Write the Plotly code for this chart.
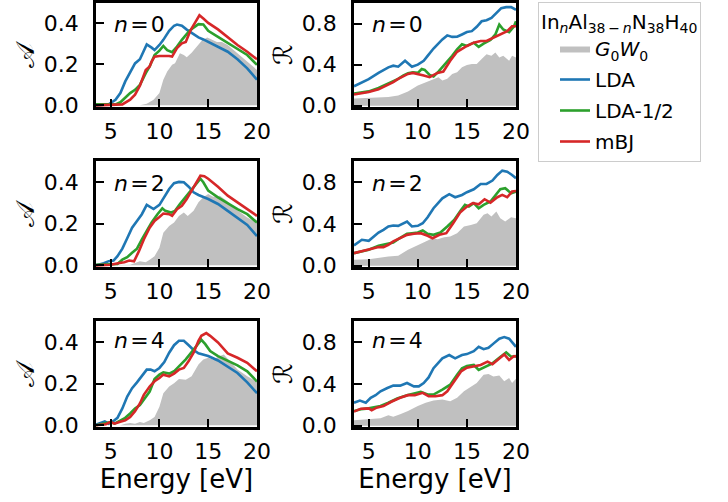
import plotly.graph_objects as go
from plotly.subplots import make_subplots

# ---------------- data ----------------
# n = 0, absorption A
A0_G0W0_E = [3.5, 8.0, 8.7, 9.4, 10.0, 10.4, 10.8, 11.3, 11.6, 12.1, 12.5, 12.8, 13.3, 13.8, 14.4, 14.9, 15.4, 15.9, 16.4, 17.0, 17.6, 18.0, 19.0, 20.0]
A0_G0W0 = [0.0, 0.0, 0.008, 0.028, 0.06, 0.125, 0.165, 0.198, 0.206, 0.254, 0.246, 0.235, 0.257, 0.287, 0.319, 0.332, 0.322, 0.31, 0.31, 0.295, 0.27, 0.254, 0.214, 0.173]
A0_LDA_E = [3.5, 4.8, 5.5, 6.0, 6.5, 7.0, 7.5, 8.0, 8.4, 8.7, 9.2, 9.5, 10.0, 10.4, 11.0, 11.5, 11.8, 12.3, 12.8, 13.5, 14.0, 14.5, 15.0, 16.0, 17.0, 18.0, 19.0, 20.0]
A0_LDA = [0.0, 0.005, 0.027, 0.06, 0.117, 0.165, 0.205, 0.225, 0.27, 0.298, 0.282, 0.27, 0.295, 0.32, 0.364, 0.389, 0.395, 0.389, 0.37, 0.35, 0.332, 0.322, 0.31, 0.29, 0.262, 0.225, 0.181, 0.125]
A0_L12_E = [3.5, 5.5, 6.0, 6.5, 7.0, 7.5, 8.0, 8.6, 9.0, 9.5, 10.0, 10.4, 10.8, 11.3, 11.8, 12.3, 13.0, 13.5, 14.0, 14.5, 15.0, 16.0, 17.0, 18.0, 19.0, 20.0]
A0_L12 = [0.005, 0.005, 0.015, 0.036, 0.06, 0.076, 0.1, 0.157, 0.19, 0.246, 0.267, 0.29, 0.27, 0.26, 0.287, 0.32, 0.36, 0.38, 0.397, 0.395, 0.364, 0.335, 0.306, 0.279, 0.246, 0.198]
A0_MBJ_E = [3.5, 6.2, 7.0, 7.5, 8.0, 8.6, 9.0, 9.2, 9.5, 10.0, 11.0, 11.3, 11.8, 12.3, 12.7, 13.2, 13.7, 14.1, 14.5, 15.0, 16.0, 17.0, 18.0, 19.0, 20.0]
A0_MBJ = [0.0, 0.005, 0.028, 0.052, 0.096, 0.173, 0.19, 0.214, 0.238, 0.241, 0.241, 0.238, 0.28, 0.303, 0.31, 0.368, 0.408, 0.44, 0.424, 0.403, 0.371, 0.332, 0.295, 0.262, 0.225]

# n = 0, reflectance R
R0_G0W0_E = [3.5, 5.0, 7.0, 8.0, 9.0, 10.0, 11.0, 11.6, 12.1, 12.5, 13.0, 13.5, 14.0, 14.5, 15.0, 15.5, 16.0, 16.5, 17.0, 17.5, 17.9, 18.3, 18.7, 19.3, 19.6, 20.0]
R0_G0W0 = [0.07, 0.077, 0.086, 0.1, 0.14, 0.198, 0.237, 0.253, 0.278, 0.246, 0.262, 0.31, 0.326, 0.374, 0.397, 0.406, 0.406, 0.454, 0.502, 0.486, 0.518, 0.47, 0.486, 0.438, 0.486, 0.47]
R0_LDA_E = [3.5, 5.0, 6.0, 7.0, 7.5, 8.0, 8.7, 9.4, 10.0, 10.6, 11.0, 11.6, 12.5, 13.0, 13.5, 14.0, 14.5, 15.0, 15.5, 16.0, 16.5, 17.0, 17.5, 18.0, 18.5, 19.0, 19.5, 20.0]
R0_LDA = [0.19, 0.26, 0.32, 0.374, 0.39, 0.38, 0.438, 0.38, 0.4, 0.438, 0.486, 0.557, 0.646, 0.685, 0.67, 0.672, 0.694, 0.717, 0.726, 0.768, 0.822, 0.832, 0.854, 0.9, 0.95, 0.96, 0.96, 0.934]
R0_L12_E = [3.5, 5.0, 6.0, 7.0, 8.0, 8.5, 9.0, 9.5, 10.0, 10.4, 10.7, 11.2, 11.6, 12.1, 12.8, 13.5, 14.0, 14.5, 15.0, 15.7, 16.2, 16.7, 17.4, 17.9, 18.3, 18.7, 19.3, 19.8, 20.0]
R0_L12 = [0.118, 0.14, 0.173, 0.214, 0.262, 0.294, 0.317, 0.326, 0.32, 0.358, 0.349, 0.3, 0.285, 0.333, 0.406, 0.486, 0.55, 0.598, 0.582, 0.614, 0.573, 0.605, 0.64, 0.694, 0.79, 0.742, 0.717, 0.774, 0.822]
R0_MBJ_E = [3.5, 5.0, 6.0, 7.0, 7.5, 8.0, 8.5, 9.0, 9.5, 10.0, 10.6, 11.2, 12.0, 12.6, 13.3, 14.0, 14.5, 15.0, 15.7, 16.4, 17.0, 17.7, 18.4, 19.1, 19.6, 20.0]
R0_MBJ = [0.109, 0.134, 0.16, 0.205, 0.23, 0.262, 0.288, 0.31, 0.32, 0.31, 0.294, 0.278, 0.32, 0.333, 0.438, 0.525, 0.557, 0.582, 0.614, 0.63, 0.63, 0.662, 0.7, 0.726, 0.774, 0.774]

# n = 2, absorption A
A2_G0W0_E = [3.5, 6.0, 7.0, 8.0, 8.6, 9.0, 9.5, 10.0, 10.4, 11.0, 11.5, 12.0, 12.5, 12.9, 13.5, 14.0, 14.5, 15.0, 15.5, 16.2, 16.9, 17.6, 18.3, 19.0, 20.0]
A2_G0W0 = [0.0, 0.0, 0.003, 0.02, 0.015, 0.027, 0.044, 0.084, 0.156, 0.189, 0.205, 0.237, 0.253, 0.237, 0.261, 0.302, 0.326, 0.342, 0.329, 0.334, 0.31, 0.277, 0.253, 0.229, 0.205]
A2_LDA_E = [3.5, 4.3, 4.8, 5.3, 5.7, 6.2, 6.7, 7.2, 7.7, 8.2, 8.7, 9.0, 9.4, 10.0, 10.4, 11.0, 11.5, 12.0, 12.5, 13.0, 13.5, 14.0, 15.0, 16.0, 17.0, 18.0, 19.0, 20.0]
A2_LDA = [0.0, 0.01, 0.02, 0.023, 0.044, 0.08, 0.13, 0.18, 0.213, 0.245, 0.29, 0.28, 0.27, 0.29, 0.318, 0.366, 0.394, 0.4, 0.398, 0.377, 0.35, 0.337, 0.318, 0.294, 0.261, 0.229, 0.194, 0.14]
A2_L12_E = [3.5, 5.0, 5.7, 6.2, 6.7, 7.2, 7.7, 8.2, 8.7, 9.2, 9.8, 10.3, 10.6, 11.2, 11.6, 12.1, 12.8, 13.5, 14.2, 14.5, 15.0, 16.0, 17.0, 18.0, 19.0, 20.0]
A2_L12 = [0.003, 0.003, 0.006, 0.027, 0.039, 0.06, 0.08, 0.124, 0.165, 0.205, 0.245, 0.273, 0.261, 0.253, 0.261, 0.294, 0.334, 0.374, 0.415, 0.398, 0.358, 0.326, 0.297, 0.269, 0.245, 0.205]
A2_MBJ_E = [3.5, 5.0, 5.9, 6.4, 6.9, 7.4, 7.9, 8.4, 9.0, 9.5, 10.0, 10.4, 11.0, 11.3, 11.8, 12.3, 12.8, 13.3, 13.8, 14.2, 14.6, 15.0, 16.0, 17.0, 18.0, 19.0, 20.0]
A2_MBJ = [0.0, 0.003, 0.011, 0.015, 0.023, 0.019, 0.068, 0.124, 0.18, 0.213, 0.232, 0.248, 0.245, 0.237, 0.269, 0.285, 0.318, 0.358, 0.398, 0.43, 0.427, 0.415, 0.377, 0.334, 0.302, 0.269, 0.237]

# n = 2, reflectance R
R2_G0W0_E = [3.5, 5.0, 7.0, 8.0, 9.0, 10.0, 10.8, 11.5, 12.0, 12.7, 13.3, 14.0, 14.7, 15.4, 16.0, 16.7, 17.1, 17.5, 18.0, 18.4, 18.9, 19.5, 20.0]
R2_G0W0 = [0.057, 0.063, 0.089, 0.095, 0.152, 0.2, 0.232, 0.263, 0.254, 0.273, 0.279, 0.311, 0.375, 0.39, 0.406, 0.486, 0.502, 0.47, 0.517, 0.454, 0.422, 0.463, 0.454]
R2_LDA_E = [3.5, 4.3, 5.0, 5.5, 6.0, 6.5, 7.0, 7.5, 8.0, 8.9, 9.4, 10.0, 10.5, 11.0, 11.6, 12.5, 13.2, 13.8, 14.5, 15.0, 15.7, 16.4, 17.0, 17.6, 18.1, 18.6, 19.1, 19.6, 20.0]
R2_LDA = [0.194, 0.248, 0.238, 0.28, 0.317, 0.343, 0.375, 0.384, 0.381, 0.422, 0.375, 0.381, 0.406, 0.463, 0.549, 0.644, 0.683, 0.654, 0.676, 0.702, 0.73, 0.781, 0.781, 0.813, 0.867, 0.908, 0.898, 0.867, 0.835]
R2_L12_E = [3.5, 5.0, 6.0, 7.0, 7.5, 8.0, 8.9, 9.4, 10.0, 10.5, 11.0, 11.6, 12.3, 13.0, 13.7, 14.4, 14.8, 15.2, 15.7, 16.2, 16.7, 17.4, 17.9, 18.4, 18.9, 19.5, 20.0]
R2_L12 = [0.12, 0.152, 0.19, 0.216, 0.222, 0.254, 0.305, 0.311, 0.317, 0.337, 0.305, 0.295, 0.317, 0.375, 0.438, 0.533, 0.581, 0.565, 0.597, 0.549, 0.581, 0.613, 0.667, 0.73, 0.74, 0.692, 0.708]
R2_MBJ_E = [3.5, 5.0, 6.0, 6.5, 7.0, 7.5, 8.2, 8.9, 9.6, 10.3, 11.0, 11.5, 12.2, 12.9, 13.6, 14.3, 15.0, 15.6, 16.2, 16.8, 17.4, 18.1, 18.6, 19.1, 19.6, 20.0]
R2_MBJ = [0.12, 0.158, 0.178, 0.178, 0.2, 0.232, 0.263, 0.295, 0.305, 0.311, 0.286, 0.263, 0.295, 0.311, 0.406, 0.508, 0.565, 0.597, 0.587, 0.635, 0.603, 0.654, 0.676, 0.654, 0.708, 0.714]

# n = 4, absorption A
A4_G0W0_E = [3.5, 6.0, 6.5, 7.0, 7.5, 8.0, 8.4, 9.0, 9.5, 10.0, 10.4, 11.0, 11.5, 12.0, 12.7, 13.3, 14.0, 14.5, 15.0, 15.5, 16.2, 16.6, 17.2, 18.0, 19.0, 20.0]
A4_G0W0 = [0.0, 0.0, 0.008, 0.011, 0.008, 0.016, 0.011, 0.024, 0.04, 0.089, 0.154, 0.186, 0.202, 0.222, 0.219, 0.235, 0.292, 0.316, 0.324, 0.316, 0.332, 0.34, 0.308, 0.267, 0.235, 0.21]
A4_LDA_E = [3.5, 4.0, 4.4, 4.8, 5.3, 5.7, 6.2, 6.7, 7.2, 7.7, 8.2, 8.7, 9.1, 9.5, 10.0, 10.5, 11.0, 11.5, 12.0, 12.5, 13.0, 13.5, 14.0, 15.0, 16.0, 17.0, 18.0, 19.0, 20.0]
A4_LDA = [0.003, 0.011, 0.019, 0.008, 0.021, 0.036, 0.081, 0.138, 0.178, 0.206, 0.235, 0.267, 0.267, 0.259, 0.275, 0.303, 0.348, 0.384, 0.405, 0.405, 0.384, 0.361, 0.345, 0.332, 0.311, 0.28, 0.251, 0.206, 0.154]
A4_L12_E = [3.5, 4.2, 5.0, 5.4, 5.9, 6.5, 7.0, 7.5, 8.0, 8.4, 9.0, 9.5, 10.0, 10.4, 11.0, 11.5, 12.0, 12.7, 13.3, 14.0, 14.3, 14.7, 15.2, 16.0, 17.0, 18.0, 19.0, 20.0]
A4_L12 = [0.0, 0.008, 0.016, 0.008, 0.021, 0.036, 0.057, 0.081, 0.097, 0.121, 0.162, 0.222, 0.243, 0.254, 0.248, 0.259, 0.283, 0.316, 0.351, 0.389, 0.41, 0.389, 0.356, 0.332, 0.308, 0.287, 0.259, 0.21]
A4_MBJ_E = [3.5, 4.5, 5.0, 5.4, 5.9, 6.5, 7.0, 7.5, 8.0, 8.4, 9.0, 9.5, 10.0, 10.4, 11.0, 11.5, 12.0, 12.5, 13.0, 13.5, 14.0, 14.3, 14.8, 15.2, 16.0, 17.0, 18.0, 19.0, 20.0]
A4_MBJ = [0.0, 0.005, 0.016, 0.008, 0.016, 0.024, 0.04, 0.068, 0.105, 0.146, 0.186, 0.211, 0.227, 0.243, 0.235, 0.248, 0.267, 0.275, 0.308, 0.348, 0.405, 0.429, 0.442, 0.429, 0.397, 0.345, 0.324, 0.3, 0.259]

# n = 4, reflectance R
R4_G0W0_E = [3.5, 5.0, 6.2, 7.0, 7.5, 8.2, 9.0, 10.0, 10.8, 11.6, 12.5, 13.3, 14.0, 14.7, 15.4, 16.0, 16.7, 17.2, 17.7, 18.3, 18.8, 19.3, 19.6, 20.0]
R4_G0W0 = [0.053, 0.063, 0.072, 0.1, 0.085, 0.11, 0.141, 0.188, 0.22, 0.242, 0.251, 0.235, 0.267, 0.329, 0.376, 0.408, 0.486, 0.493, 0.471, 0.48, 0.424, 0.455, 0.408, 0.449]
R4_LDA_E = [3.5, 4.1, 4.7, 5.2, 5.7, 6.2, 6.9, 7.5, 8.2, 8.9, 9.6, 10.1, 10.6, 11.1, 11.6, 12.5, 13.2, 13.8, 14.5, 15.0, 15.7, 16.2, 16.7, 17.2, 17.7, 18.3, 18.8, 19.3, 20.0]
R4_LDA = [0.22, 0.24, 0.22, 0.267, 0.292, 0.329, 0.36, 0.383, 0.383, 0.408, 0.376, 0.376, 0.408, 0.461, 0.549, 0.643, 0.675, 0.643, 0.675, 0.684, 0.712, 0.753, 0.731, 0.744, 0.784, 0.831, 0.847, 0.831, 0.753]
R4_L12_E = [3.5, 4.2, 5.0, 5.5, 6.2, 7.0, 7.9, 8.9, 9.6, 10.3, 11.0, 11.6, 12.5, 13.3, 14.0, 14.5, 15.0, 15.7, 16.2, 16.9, 17.6, 18.3, 19.0, 19.5, 20.0]
R4_L12 = [0.141, 0.157, 0.166, 0.173, 0.188, 0.22, 0.26, 0.292, 0.304, 0.323, 0.298, 0.298, 0.345, 0.392, 0.486, 0.549, 0.571, 0.58, 0.533, 0.565, 0.596, 0.649, 0.7, 0.659, 0.665]
R4_MBJ_E = [3.5, 4.2, 5.0, 5.3, 5.8, 6.5, 7.3, 8.2, 9.0, 9.7, 10.5, 11.1, 11.8, 12.5, 13.0, 13.7, 14.4, 15.0, 15.7, 16.4, 17.1, 17.6, 18.3, 18.8, 19.3, 19.8, 20.0]
R4_MBJ = [0.135, 0.163, 0.166, 0.147, 0.173, 0.188, 0.229, 0.267, 0.292, 0.292, 0.314, 0.282, 0.282, 0.292, 0.329, 0.424, 0.518, 0.555, 0.565, 0.58, 0.612, 0.587, 0.643, 0.681, 0.627, 0.665, 0.659]

N_VALUES = [0, 2, 4]
SERIES_NAMES = ["<i>G</i><sub>0</sub><i>W</i><sub>0</sub>", "LDA", "LDA-1/2", "mBJ"]
X_TICKS = [5, 10, 15, 20]
A_TICKS = [0.0, 0.2, 0.4]
R_TICKS = [0.0, 0.4, 0.8]
X_TITLE = "Energy [eV]"
A_TITLE = "\U0001D49C"
R_TITLE = "\u211B"
LEGEND_TITLE = "In<sub><i>n</i></sub>Al<sub>38\u2009\u2212\u2009<i>n</i></sub>N<sub>38</sub>H<sub>40</sub>"

# ---------------- figure ----------------
COLORS = ["#c0c0c0", "#1f77b4", "#2ca02c", "#d62728"]
FONT = "DejaVu Sans"
W, H = 728, 502

panels = [
    [(A0_G0W0_E, A0_G0W0), (A0_LDA_E, A0_LDA), (A0_L12_E, A0_L12), (A0_MBJ_E, A0_MBJ)],
    [(R0_G0W0_E, R0_G0W0), (R0_LDA_E, R0_LDA), (R0_L12_E, R0_L12), (R0_MBJ_E, R0_MBJ)],
    [(A2_G0W0_E, A2_G0W0), (A2_LDA_E, A2_LDA), (A2_L12_E, A2_L12), (A2_MBJ_E, A2_MBJ)],
    [(R2_G0W0_E, R2_G0W0), (R2_LDA_E, R2_LDA), (R2_L12_E, R2_L12), (R2_MBJ_E, R2_MBJ)],
    [(A4_G0W0_E, A4_G0W0), (A4_LDA_E, A4_LDA), (A4_L12_E, A4_L12), (A4_MBJ_E, A4_MBJ)],
    [(R4_G0W0_E, R4_G0W0), (R4_LDA_E, R4_LDA), (R4_L12_E, R4_L12), (R4_MBJ_E, R4_MBJ)],
]

fig = make_subplots(rows=3, cols=2)

# pixel geometry of panels
col_px = [(96, 257), (354, 516)]
row_px = [(3, 107), (161, 267), (321, 427)]
label_y = [0.79, 0.79, 0.815]

for idx, series in enumerate(panels):
    r = idx // 2 + 1
    c = idx % 2 + 1
    for k, (ex, vals) in enumerate(series):
        if k == 0:
            tr = go.Scatter(x=ex, y=vals, mode="lines", fill="tozeroy",
                            fillcolor=COLORS[0], line=dict(width=0, color=COLORS[0]),
                            name=SERIES_NAMES[k], legendgroup=SERIES_NAMES[k],
                            showlegend=(idx == 0))
        else:
            tr = go.Scatter(x=ex, y=vals, mode="lines",
                            line=dict(width=2.6, color=COLORS[k]),
                            name=SERIES_NAMES[k], legendgroup=SERIES_NAMES[k],
                            showlegend=(idx == 0))
        fig.add_trace(tr, row=r, col=c)

    x0, x1 = col_px[c - 1]
    y0, y1 = row_px[r - 1]
    xd = [x0 / W, x1 / W]
    yd = [1 - y1 / H, 1 - y0 / H]
    axn = "" if idx == 0 else str(idx + 1)
    xa = dict(domain=xd, range=[3.5, 20], tickvals=X_TICKS, ticks="inside",
              ticklen=8, tickwidth=2, tickcolor="black", showline=True,
              linecolor="black", linewidth=2.5, mirror=True, showgrid=False,
              zeroline=False, automargin=False,
              tickfont=dict(family=FONT, size=22, color="black"),
              ticklabelstandoff=3)
    if r == 3:
        xa["title"] = dict(text=X_TITLE, font=dict(family=FONT, size=26, color="black"),
                           standoff=7)
    if c == 1:
        yr, yt = [-0.008, 0.5], A_TICKS
    else:
        yr, yt = [-0.012, 1.0], R_TICKS
    ya = dict(domain=yd, range=yr, tickvals=yt, tickformat=".1f", ticks="inside",
              ticklen=8, tickwidth=2, tickcolor="black", showline=True,
              linecolor="black", linewidth=2.5, mirror=True, showgrid=False,
              zeroline=False, automargin=False,
              tickfont=dict(family=FONT, size=22, color="black"),
              ticklabelstandoff=10)
    fig.layout["xaxis" + axn].update(xa)
    fig.layout["yaxis" + axn].update(ya)

    # n label
    fig.add_annotation(text="<i>n</i>\u200a=\u200a" + str(N_VALUES[r - 1]),
                       xref="x" + axn + " domain", yref="y" + axn + " domain",
                       x=0.1, y=label_y[r - 1], xanchor="left", yanchor="middle",
                       showarrow=False, font=dict(family=FONT, size=22, color="black"))
    # y title
    ytx = (25 if c == 1 else 283) / W
    fig.add_annotation(text=A_TITLE if c == 1 else R_TITLE, xref="paper", yref="paper",
                       x=ytx, y=(yd[0] + yd[1]) / 2, xanchor="center", yanchor="middle",
                       textangle=-90, showarrow=False,
                       font=dict(family=FONT, size=26, color="black"))

fig.update_layout(
    width=W, height=H, margin=dict(l=0, r=0, t=0, b=0, autoexpand=False),
    plot_bgcolor="white", paper_bgcolor="white",
    font=dict(family=FONT, size=20, color="black"),
    legend=dict(x=538 / W, y=1 - 2 / H, xanchor="left", yanchor="top",
                bgcolor="white", bordercolor="#cccccc", borderwidth=1,
                font=dict(family=FONT, size=20, color="black"),
                title=dict(text=LEGEND_TITLE, side="top",
                           font=dict(family=FONT, size=20, color="black")),
                itemwidth=30, tracegroupgap=2, indentation=16),
)

fig.write_html("out.html", config={"displayModeBar": False},
               post_script="document.body.style.margin='0px';document.body.style.overflow='hidden';")
